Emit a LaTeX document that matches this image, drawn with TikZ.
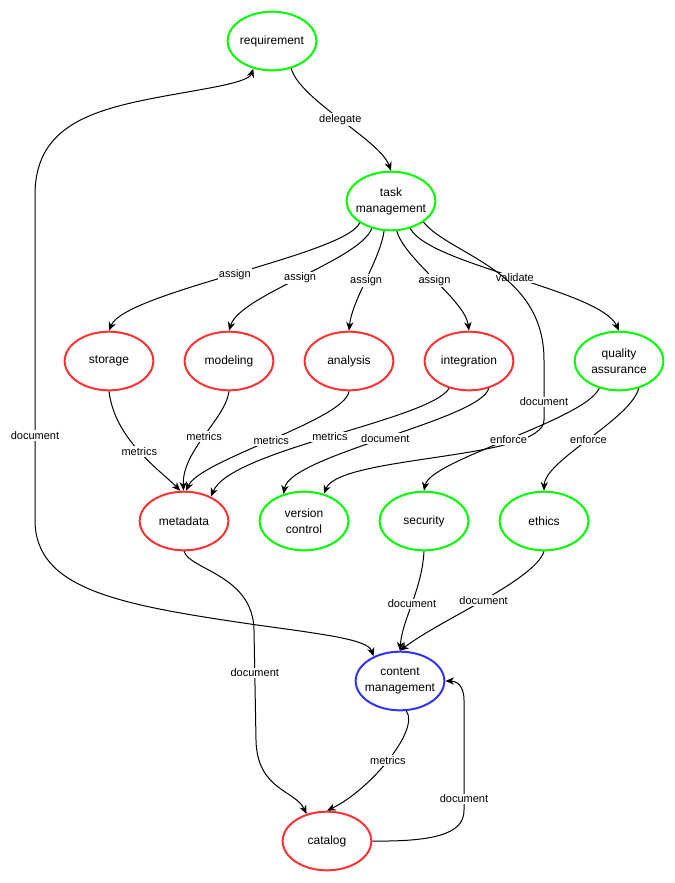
\documentclass[tikz,border=0pt]{standalone}
\usepackage{fontspec}
\setmainfont{Liberation Sans}
\usetikzlibrary{shapes,arrows.meta}

\definecolor{stgreen}{HTML}{00FF00}
\definecolor{stred}{HTML}{FF3333}
\definecolor{stblue}{HTML}{3333FF}

\tikzset{
	state/.style={ellipse, draw, line width=1.5pt, minimum width=66.5pt, minimum height=44pt,
		inner xsep=-6pt, inner ysep=0pt, align=center, font=\fontsize{9}{12}\selectfont},
	greenstate/.style={state, draw=stgreen},
	redstate/.style={state, draw=stred},
	bluestate/.style={state, draw=stblue},
	lbl/.style={fill=white, inner sep=1pt, font=\fontsize{8.25}{10}\selectfont},
	link/.style={->, line width=0.75pt}
}

\begin{document}
\begin{tikzpicture}[x=0.75pt, y=-0.75pt, >={Stealth[length=6.5pt,width=5.5pt,inset=2pt]}]
	\useasboundingbox (0,0) rectangle (675,883);
	
	\def\rowa{361} % storage row
	\def\rowb{521} % metadata row
	
	% top
	\node[greenstate] (req) at (272,41) {requirement};
	\node[greenstate] (task) at (391,201) {task\\management};
	
	% first row
	\node[redstate] (storage) at (109,\rowa) {storage};
	\node[redstate] (modeling) at (229,\rowa) {modeling};
	\node[redstate] (analysis) at (349,\rowa) {analysis};
	\node[redstate] (integ) at (469,\rowa) {integration};
	\node[greenstate] (qa) at (619,\rowa) {quality\\assurance};
	
	% second row
	\node[redstate] (meta) at (184,\rowb) {metadata};
	\node[greenstate] (vc) at (304,\rowb) {version\\control};
	\node[greenstate] (sec) at (424,\rowb) {security};
	\node[greenstate] (ethics) at (544,\rowb) {ethics};
	
	% bottom
	\node[bluestate] (cm) at (400,681) {content\\management};
	\node[redstate] (catalog) at (327,841) {catalog};
	
	% delegate
	\draw[link] (req.305) .. controls (300,100) and (380,140) .. (task.north) node[lbl,pos=0.5] {delegate};
	
	% assign, validate
	\draw[link] (task.215) .. controls (345,255) and (125,292) .. (storage.north) node[lbl,pos=0.5] {assign};
	\draw[link] (task.235) .. controls (360,260) and (240,295) .. (modeling.north) node[lbl,pos=0.5] {assign};
	\draw[link] (task.257) .. controls (380,260) and (352,300) .. (analysis.north) node[lbl,pos=0.5] {assign};
	\draw[link] (task.281) .. controls (405,260) and (465,300) .. (integ.north) node[lbl,pos=0.5] {assign};
	\draw[link] (task.305) .. controls (430,265) and (600,290) .. (qa.north) node[lbl,pos=0.5] {validate};
	
	% task management down to version control
	\draw[link] (task.327) .. controls (450,255) and (544,270) .. (544,360)
		-- (544,420) node[lbl,pos=0.7] {document}
		.. controls (544,460) and (340,455) .. (vc.54);
	
	% metrics into metadata
	\draw[link] (storage.south) .. controls (115,440) and (160,470) .. (meta.97) node[lbl,pos=0.5] {metrics};
	\draw[link] (modeling.south) .. controls (225,420) and (182,450) .. (meta.91) node[lbl,pos=0.5] {metrics};
	\draw[link] (analysis.south) .. controls (345,420) and (200,460) .. (meta.86) node[lbl,pos=0.5] {metrics};
	\draw[link] (integ.234) .. controls (430,420) and (230,450) .. (meta.42) node[lbl,pos=0.5] {metrics};
	\draw[link] (integ.306) .. controls (480,420) and (290,455) .. (vc.127) node[lbl,pos=0.5] {document};
	
	% enforce
	\draw[link] (qa.234) .. controls (585,420) and (430,460) .. (sec.north) node[lbl,pos=0.5] {enforce};
	\draw[link] (qa.306) .. controls (630,420) and (545,460) .. (ethics.north) node[lbl,pos=0.5] {enforce};
	
	% metadata to catalog
	\draw[link] (meta.south) .. controls (190,570) and (253,575) .. (254,630)
		-- (256,740) node[lbl,pos=0.39] {document}
		.. controls (257,790) and (295,790) .. (catalog.127);
	
	% into content management
	\draw[link] (sec.south) .. controls (422,590) and (402,620) .. (cm.north) node[lbl,pos=0.5] {document};
	\draw[link] (ethics.south) .. controls (535,580) and (440,620) .. (cm.north) node[lbl,pos=0.5] {document};
	
	% content management and catalog
	\draw[link] (cm.282) .. controls (420,730) and (370,790) .. (catalog.north) node[lbl,pos=0.5] {metrics};
	\draw[link] (catalog.east) .. controls (445,842) and (464,830) .. (464,810)
		-- (464,700) node[lbl,pos=0.1] {document}
		.. controls (464,685) and (456,681) .. (cm.east);
	
	% long way round on the left
	\draw[<->, line width=0.75pt] (cm.137) .. controls (368,640) and (330,635) .. (257,625)
		.. controls (120,605) and (35,590) .. (35,520)
		-- (35,195) node[lbl,pos=0.26] {document}
		.. controls (35,110) and (120,105) .. (215,87)
		.. controls (240,82) and (250,78) .. (req.236);
\end{tikzpicture}
\end{document}
